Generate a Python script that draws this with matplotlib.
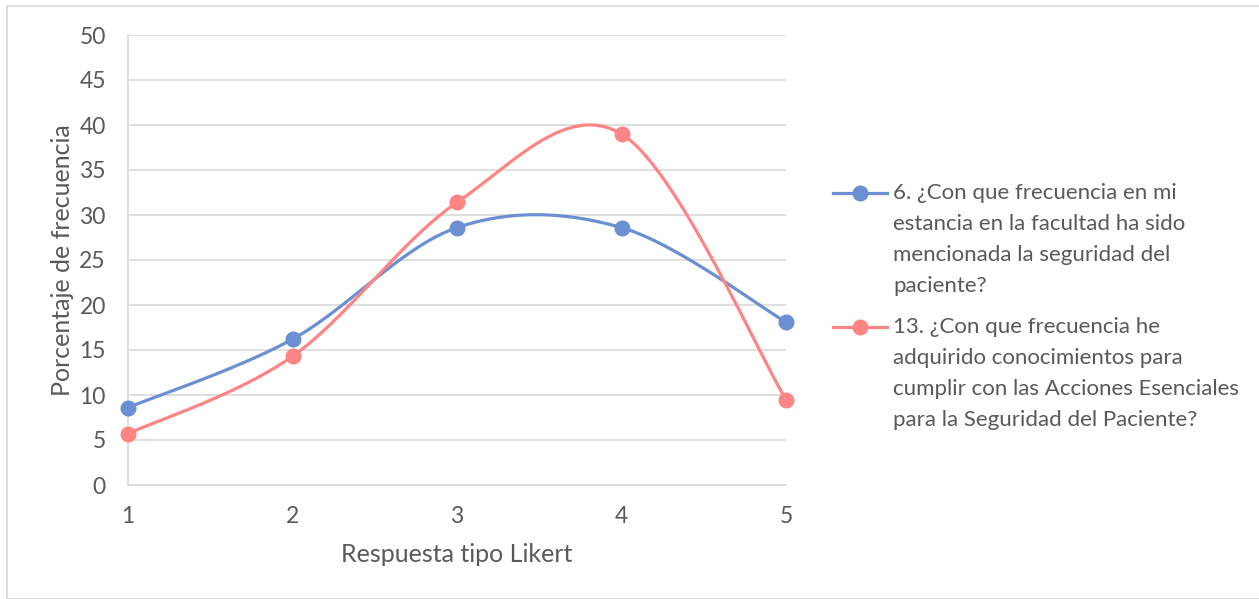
import numpy as np
import matplotlib.pyplot as plt
from matplotlib.lines import Line2D
from matplotlib.patches import Rectangle

### Data
likert = [1, 2, 3, 4, 5]
pregunta_6 = [8.6, 16.2, 28.6, 28.6, 18.1]
pregunta_13 = [5.7, 14.3, 31.4, 39.0, 9.5]

label_6 = "6. ¿Con que frecuencia en mi\nestancia en la facultad ha sido\nmencionada la seguridad del\npaciente?"
label_13 = "13. ¿Con que frecuencia he\nadquirido conocimientos para\ncumplir con las Acciones Esenciales\npara la Seguridad del Paciente?"

blue = '#6A8FD3'
red = '#FF8585'
grey_txt = '#595959'
grid_col = '#D9D9D9'

plt.rcParams['font.family'] = ['Lato', 'DejaVu Sans']


### Smoothed line like the spreadsheet one (Catmull-Rom as cubic Bezier)
def smooth(x, y, n=60):
    p = np.column_stack([x, y]).astype(float)
    p = np.vstack([p[0], p, p[-1]])
    out = []
    for i in range(1, len(p) - 2):
        b0 = p[i]
        b1 = p[i] + (p[i + 1] - p[i - 1]) / 6
        b2 = p[i + 1] - (p[i + 2] - p[i]) / 6
        b3 = p[i + 1]
        t = np.linspace(0, 1, n)[:, None]
        seg = ((1 - t) ** 3) * b0 + 3 * ((1 - t) ** 2) * t * b1 + 3 * (1 - t) * t ** 2 * b2 + t ** 3 * b3
        out.append(seg if i == 1 else seg[1:])
    out = np.vstack(out)
    return out[:, 0], out[:, 1]


fig = plt.figure(figsize=(12.59, 5.99), dpi=100)
fig.add_artist(Rectangle((7 / 1259, 0), 1.0, 1 - 6 / 599, transform=fig.transFigure,
                         fill=False, edgecolor='#D9D9D9', linewidth=1.2))

ax = fig.add_axes([128 / 1259, 114 / 599, 658 / 1259, 450 / 599])

for yv, col in [(pregunta_6, blue), (pregunta_13, red)]:
    sx, sy = smooth(likert, yv)
    ax.plot(sx, sy, color=col, linewidth=2.3, zorder=3, solid_capstyle='round')
    ax.plot(likert, yv, 'o', color=col, markersize=10.5, zorder=4, clip_on=False)

ax.set_xlim(1, 5)
ax.set_ylim(0, 50)
ax.set_xticks(likert)
ax.set_yticks(np.arange(0, 51, 5))
ax.grid(axis='y', color=grid_col, linewidth=1.2)
ax.set_axisbelow(True)
for s in ['top', 'right']:
    ax.spines[s].set_visible(False)
ax.spines['left'].set_color(grid_col)
ax.spines['bottom'].set_color(grid_col)
ax.spines['left'].set_linewidth(1.2)
ax.spines['bottom'].set_linewidth(1.2)
ax.tick_params(length=0, labelsize=16.5, colors=grey_txt, pad=16)
ax.tick_params(axis='x', pad=15)

ax.set_ylabel('Porcentaje de frecuencia', fontsize=18, color=grey_txt, labelpad=4)
ax.set_xlabel('Respuesta tipo Likert', fontsize=18, color=grey_txt, labelpad=12)

### Legend drawn by hand so the marker sits on the first line of text
for lab, col, ypix in [(label_6, blue, 193), (label_13, red, 327)]:
    yf = 1 - ypix / 599
    fig.add_artist(Line2D([833 / 1259, 887 / 1259], [yf, yf], color=col, linewidth=2.3,
                          transform=fig.transFigure))
    fig.add_artist(Line2D([860 / 1259], [yf], marker='o', color=col, markersize=10.5,
                          transform=fig.transFigure))
    fig.text(893 / 1259, yf + 10 / 599, lab, fontsize=16, color=grey_txt,
             va='top', ha='left', linespacing=1.68)

plt.savefig('out.png', dpi=100)
